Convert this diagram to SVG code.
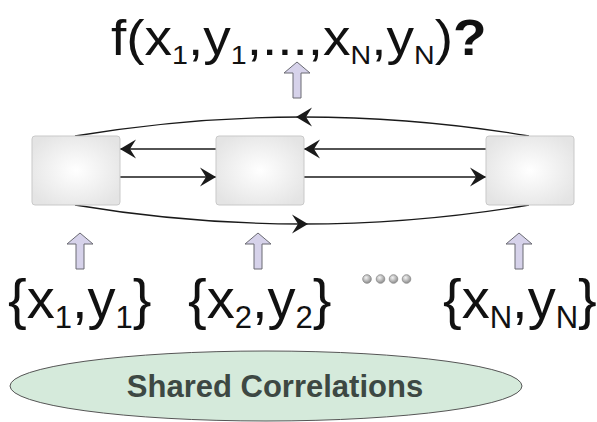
<svg xmlns="http://www.w3.org/2000/svg" width="597" height="422" viewBox="0 0 597 422">
<defs>
<style>
.lbl{font-family:"Liberation Sans",Arial,sans-serif;fill:#111;}
.big{font-size:56px;}
.sub{font-size:31px;}
.top{font-size:50px;}
.tsub{font-size:26px;}
.box{fill:url(#boxg);stroke:#c9c9c9;stroke-width:1;}
.conn{fill:none;stroke:#1a1a1a;stroke-width:1.3;}
.up{fill:#d6d2ea;stroke:#6a6a72;stroke-width:1;}
.dot{fill:url(#dotg);stroke:#8a8a8a;stroke-width:0.8;}
</style>
<radialGradient id="boxg" cx="50%" cy="50%" r="60%">
<stop offset="0" stop-color="#ffffff"/>
<stop offset="1" stop-color="#e4e4e4"/>
</radialGradient>
<radialGradient id="dotg" cx="40%" cy="35%" r="65%">
<stop offset="0" stop-color="#f4f4f4"/>
<stop offset="1" stop-color="#8c8c8c"/>
</radialGradient>
<marker id="ah" markerUnits="userSpaceOnUse" markerWidth="20" markerHeight="22" refX="16" refY="10" orient="auto" overflow="visible">
<path d="M16,10 L0,0.5 L6,10 L0,19.5 Z" fill="#1a1a1a"/>
</marker>
<marker id="am" markerUnits="userSpaceOnUse" markerWidth="20" markerHeight="22" refX="10" refY="10" orient="auto" overflow="visible">
<path d="M16,10 L0,0.5 L6,10 L0,19.5 Z" fill="#1a1a1a"/>
</marker>
<path id="uparrow" class="up" d="M0,0 L13,11 L4,11 L4,36 L-4,36 L-4,11 L-13,11 Z"/>
</defs>

<g id="connectors">
<line class="conn" x1="216" y1="149" x2="120" y2="149" marker-end="url(#ah)"/>
<line class="conn" x1="120" y1="177" x2="216" y2="177" marker-end="url(#ah)"/>
<line class="conn" x1="486" y1="149" x2="304" y2="149" marker-end="url(#ah)"/>
<line class="conn" x1="304" y1="177" x2="486" y2="177" marker-end="url(#ah)"/>
<path class="conn" d="M529,136 Q415.5,117 302,117 Q188.5,117 75,136" marker-mid="url(#am)"/>
<path class="conn" d="M75,205 Q188.5,224 302,224 Q415.5,224 529,205" marker-mid="url(#am)"/>
</g>

<g id="node1"><rect class="box" x="32" y="136" width="88" height="69" rx="3"/></g>
<g id="node2"><rect class="box" x="216" y="136" width="88" height="69" rx="3"/></g>
<g id="node3"><rect class="box" x="486" y="136" width="88" height="69" rx="3"/></g>

<g id="up-arrows">
<use href="#uparrow" x="297" y="62"/>
<use href="#uparrow" x="80" y="233"/>
<use href="#uparrow" x="258" y="233"/>
<use href="#uparrow" x="519" y="233"/>
</g>

<g id="title">
<text class="lbl top" transform="translate(111,55) scale(1.1,1)" x="0" y="0">f(x<tspan class="tsub" dy="9">1</tspan><tspan dy="-9">,y</tspan><tspan class="tsub" dy="9">1</tspan><tspan dy="-9">,...,x</tspan><tspan class="tsub" dy="9">N</tspan><tspan dy="-9">,y</tspan><tspan class="tsub" dy="9">N</tspan><tspan dy="-9">)</tspan><tspan font-weight="bold">?</tspan></text>
</g>

<g id="input1"><text class="lbl big" x="8" y="318">{x<tspan class="sub" dy="10">1</tspan><tspan dy="-10">,y</tspan><tspan class="sub" dy="10">1</tspan><tspan dy="-10">}</tspan></text></g>
<g id="input2"><text class="lbl big" x="188" y="318">{x<tspan class="sub" dy="10">2</tspan><tspan dy="-10">,y</tspan><tspan class="sub" dy="10">2</tspan><tspan dy="-10">}</tspan></text></g>
<g id="inputN"><text class="lbl big" x="443" y="318">{x<tspan class="sub" dy="10">N</tspan><tspan dy="-10">,y</tspan><tspan class="sub" dy="10">N</tspan><tspan dy="-10">}</tspan></text></g>

<g id="ellipsis">
<circle class="dot" cx="367" cy="279" r="4.3"/>
<circle class="dot" cx="380.5" cy="279" r="4.3"/>
<circle class="dot" cx="393.5" cy="279" r="4.3"/>
<circle class="dot" cx="406.5" cy="279" r="4.3"/>
</g>

<g id="shared">
<ellipse cx="266" cy="386" rx="256" ry="35" fill="#d5eadb" stroke="#555" stroke-width="1"/>
<text x="275" y="397" text-anchor="middle" font-family="Liberation Sans, Arial, sans-serif" font-weight="bold" font-size="31" fill="#3d4843">Shared Correlations</text>
</g>
</svg>
